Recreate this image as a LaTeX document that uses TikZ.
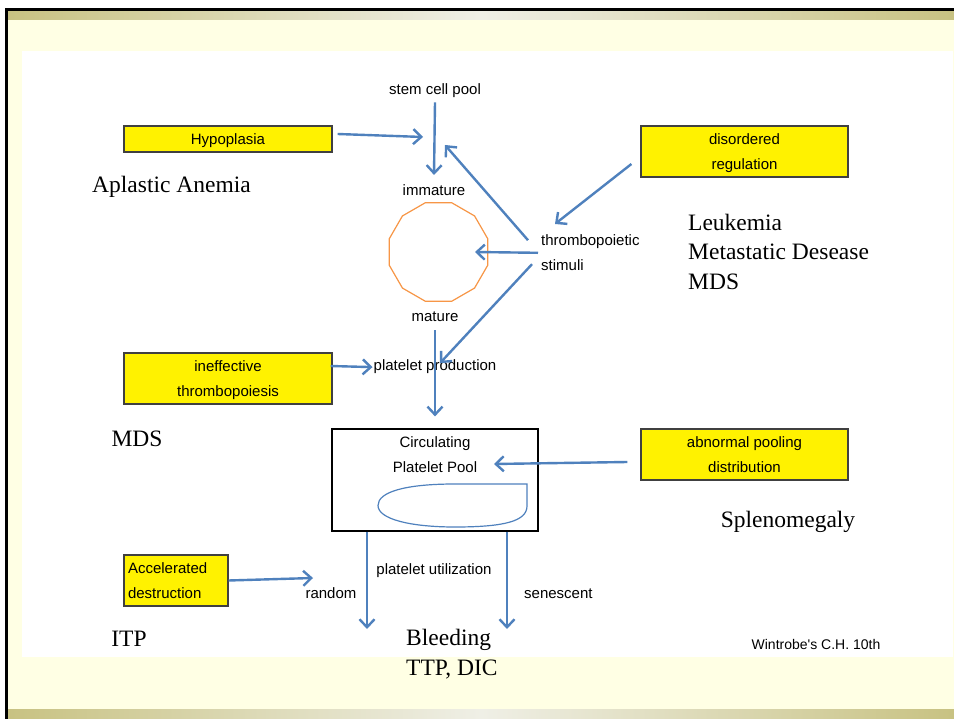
\documentclass[tikz,border=0pt]{standalone}
\usepackage{fontspec}
\setmainfont{Liberation Serif}
\newfontfamily\labelfont{Liberation Sans}
\usetikzlibrary{shapes.geometric, arrows.meta, positioning, calc}
\definecolor{linkblue}{HTML}{4F81BD}
\definecolor{cellorange}{HTML}{F79646}
\definecolor{cream}{HTML}{FFFFE4}
\definecolor{gold}{HTML}{C8C282}
\definecolor{paleband}{HTML}{EFEFE6}

\begin{document}
\begin{tikzpicture}[
    x=1pt, y=-1pt,
    ybox/.style={rectangle, draw=black!75, fill=yellow, line width=1.2pt, minimum width=208pt, minimum height=51pt, inner sep=0pt, text depth=0pt, align=center, font=\labelfont\fontsize{15}{25}\selectfont},
    tag/.style={font=\labelfont\fontsize{15}{25}\selectfont, inner sep=1pt, align=center},
    disease/.style={font=\fontsize{23.5}{29.3}\selectfont, inner sep=0pt, align=left},
    arrow/.style={-{Straight Barb[length=8pt,width=15pt]}, line width=2.4pt, draw=linkblue}
]
    \useasboundingbox (0,0) rectangle (954,719);
    \fill[white] (0,0) rectangle (954,719);
    \fill[cream] (8,11) rectangle (954,719);
    \shade[left color=gold, right color=gold, middle color=paleband] (8,11) rectangle (954,20);
    \shade[left color=gold, right color=gold, middle color=paleband] (8,709) rectangle (954,719);
    \fill[white] (22,51) rectangle (953,657);
    \fill[black] (5,8) rectangle (954,11);
    \fill[black] (5,8) rectangle (8,719);

    \node[ybox, minimum height=26pt] (hypo) at (228,139) {Hypoplasia};
    \node[ybox, minimum width=207pt] (disord) at (744.5,151.5) {disordered\\regulation};
    \node[ybox] (ineff) at (228,378.5) {ineffective\\thrombopoiesis};
    \node[ybox, minimum width=207pt] (abnorm) at (744.5,454.5) {abnormal pooling\\distribution};
    \node[ybox, text depth={}, minimum width=104pt, text width=96pt, align=left] (accel) at (176,580.5) {Accelerated\\destruction};

    \node[tag, anchor=base] (stem) at (435,95) {stem cell pool};
    \node[tag, anchor=base] (immat) at (434,196) {immature};
    \node[regular polygon, regular polygon sides=12, draw=cellorange, line width=1.2pt, minimum size=102pt, inner sep=0pt] (poly) at (438.5,252) {};
    \node[tag, anchor=base] (mature) at (435,322) {mature};
    \node[tag, inner sep=0pt, align=left, anchor=north west] (thrombo) at (541,234.6) {thrombopoietic\\stimuli};
    \node[tag, anchor=base] (prod) at (435,371) {platelet production};

    \node[draw, line width=1.2pt, minimum width=206pt, minimum height=102pt] (pool) at (435,480) {};
    \node[tag] (poolname) at (435,455) {Circulating\\Platelet Pool};
    \draw[linkblue, line width=1.2pt] (527,484) -- (455,484)
        .. controls (405,484) and (378,492) .. (378,505.5)
        .. controls (378,519) and (410,527) .. (455,527)
        .. controls (505,527) and (527,521) .. (527,506) -- cycle;

    \node[tag, anchor=base] (util) at (434,574) {platelet utilization};
    \node[tag, anchor=base] (random) at (331,598.3) {random};
    \node[tag, anchor=base west] (senesc) at (523,598.3) {senescent};
    \node[tag, anchor=base, font=\labelfont\fontsize{14}{16}\selectfont] (source) at (816,649) {Wintrobe's C.H. 10th};

    \node[disease, anchor=base] (aplastic) at (171.5,192.7) {Aplastic Anemia};
    \node[disease, anchor=base west] (leuk) at (688,289.3) {Leukemia\\Metastatic Desease\\MDS};
    \node[disease, anchor=base] (mdsleft) at (137,446.7) {MDS};
    \node[disease, anchor=base] (spleno) at (788,527.3) {Splenomegaly};
    \node[disease, anchor=base] (itp) at (129,646) {ITP};
    \node[disease, anchor=base west] (bleed) at (406,675) {Bleeding\\TTP, DIC};

    \coordinate (hypotip) at (423,137);
    \coordinate (feedtip) at (445,145);
    \coordinate (pooltip) at (494,464);
    \coordinate (randtip) at (367,629);
    \coordinate (senestip) at (507,629);
    \coordinate (randin) at (313,578);

    \draw[arrow] ($(hypo.east)+(5,-5)$) -- (hypotip);
    \draw[arrow] ($(stem.south)+(0,3)$) -- ($(immat.north)+(0,-9)$);
    \draw[arrow] ($(thrombo.west)+(-13,-12.6)$) -- (feedtip);
    \draw[arrow] ($(disord.west)+(-9,12.5)$) -- ($(thrombo.north west)+(14,-10.6)$);
    \draw[arrow] ($(thrombo.west)+(-3,0)$) -- ($(poly.center)+(36.5,0)$);
    \draw[arrow] ($(thrombo.west)+(-9,11.4)$) -- ($(prod.center)+(5,-4)$);
    \draw[arrow] ($(mature.south)+(0,7)$) -- ($(pool.north)+(0,-12)$);
    \draw[arrow] ($(ineff.east)+(-2,-12.5)$) -- (prod.west);
    \draw[arrow] ($(abnorm.west)+(-13,7.5)$) -- (pooltip);
    \draw[arrow] ($(pool.south)+(-68,0)$) -- (randtip);
    \draw[arrow] ($(pool.south)+(72,0)$) -- (senestip);
    \draw[arrow] (accel.east) -- (randin);
\end{tikzpicture}
\end{document}
